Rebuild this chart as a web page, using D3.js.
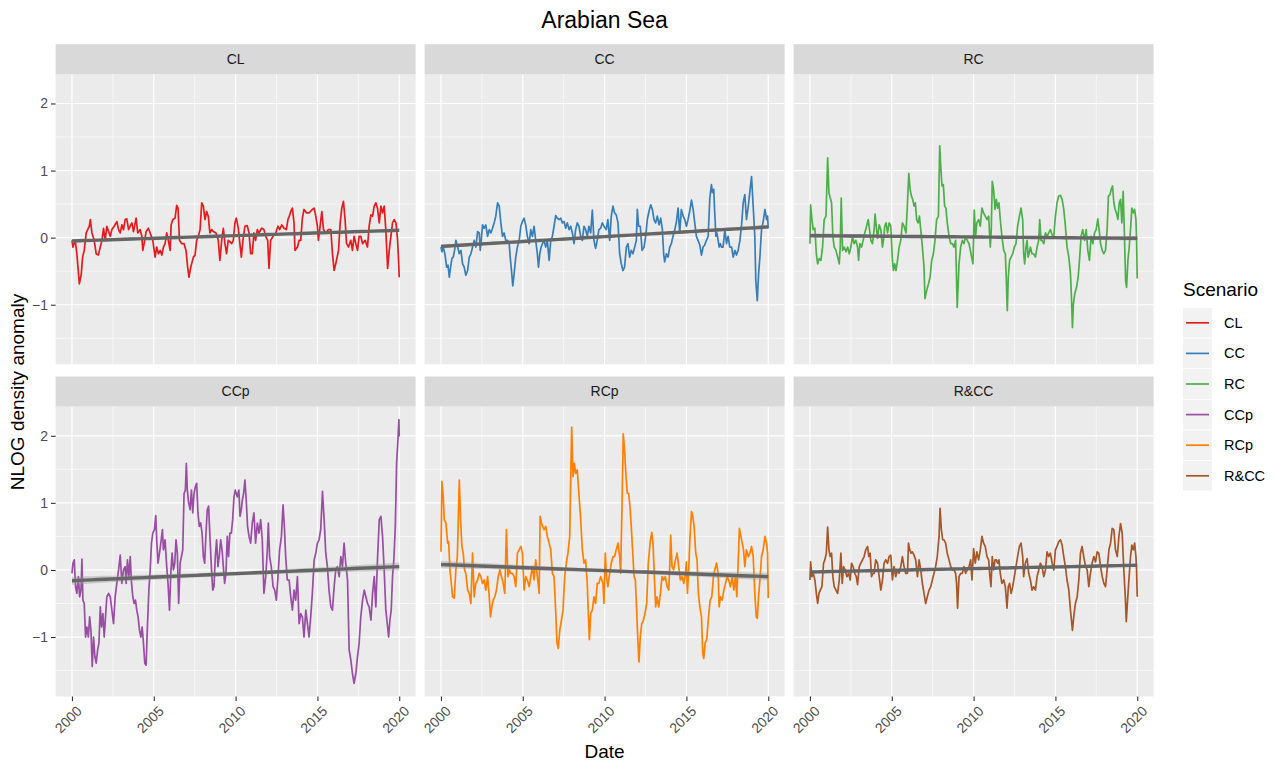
<!DOCTYPE html>
<html><head><meta charset="utf-8">
<script src="https://cdn.jsdelivr.net/npm/d3@7"></script>
<style>body{margin:0;background:#fff} text{font-family:"Liberation Sans",Arial,Helvetica,sans-serif}</style>
</head><body><svg id="chart" width="1277" height="762"></svg>
<script>
const scenarios = ["CL","CC","RC","CCp","RCp","R&CC"];
const colors = ["#E41A1C","#377EB8","#4DAF4A","#984EA3","#FF7F00","#A65628"];
const xTicks = [2000,2005,2010,2015,2020];
const yTicks = [-1,0,1,2];
const xMinor = [2002.5,2007.5,2012.5,2017.5];
const yMinor = [-1.5,-0.5,0.5,1.5];
// linear trend (geom_smooth lm) read at 2000 and 2020, and mid-range CI half width
const trendStart = [-0.05,-0.13,0.03,-0.16,0.08,-0.03];
const trendEnd   = [0.11,0.16,-0.01,0.05,-0.10,0.07];
const trendCI    = [0.012,0.014,0.018,0.03,0.028,0.012];

const clData = [[2000.00,-0.04],[2000.06,-0.14],[2000.20,-0.04],[2000.30,-0.24],[2000.45,-0.69],[2000.57,-0.54],[2000.65,-0.29],[2000.75,-0.19],[2000.87,0.07],[2000.96,0.12],
[2001.06,0.17],[2001.12,0.27],[2001.22,0.07],[2001.36,-0.04],[2001.48,-0.24],[2001.61,-0.26],[2001.73,-0.14],[2001.83,-0.04],[2001.93,0.14],
[2002.03,-0.04],[2002.13,0.17],[2002.24,0.09],[2002.34,0.02],[2002.44,0.12],[2002.58,0.17],[2002.74,0.24],[2002.85,0.12],[2002.95,0.07],
[2003.05,0.19],[2003.15,0.12],[2003.25,0.27],[2003.35,0.28],[2003.46,0.12],[2003.56,0.17],[2003.66,0.22],[2003.76,0.09],[2003.92,0.29],
[2004.02,0.07],[2004.17,0.12],[2004.27,0.02],[2004.33,-0.19],[2004.41,-0.09],[2004.53,0.09],[2004.67,0.14],[2004.78,0.07],[2004.94,-0.04],
[2005.08,-0.29],[2005.18,-0.14],[2005.28,-0.24],[2005.39,-0.19],[2005.49,-0.26],[2005.59,-0.14],[2005.69,-0.09],[2005.79,0.07],[2005.89,-0.04],
[2006.00,-0.19],[2006.06,0.19],[2006.16,0.27],[2006.30,0.29],[2006.40,0.48],[2006.48,0.44],[2006.57,-0.04],[2006.71,-0.09],[2006.85,-0.09],[2006.97,-0.19],
[2007.07,-0.44],[2007.15,-0.59],[2007.26,-0.44],[2007.42,-0.29],[2007.52,-0.26],[2007.62,-0.04],[2007.72,0.02],[2007.83,0.12],[2007.93,0.52],
[2008.03,0.47],[2008.13,0.27],[2008.23,0.39],[2008.33,0.32],[2008.43,0.07],[2008.54,0.12],[2008.64,0.09],[2008.80,0.07],[2008.94,-0.04],
[2009.04,-0.34],[2009.15,-0.04],[2009.25,0.14],[2009.35,-0.09],[2009.45,-0.24],[2009.55,-0.04],[2009.65,-0.06],[2009.76,-0.09],[2009.86,-0.04],[2009.96,0.22],
[2010.04,0.29],[2010.16,0.15],[2010.24,-0.04],[2010.35,-0.29],[2010.45,-0.04],[2010.57,0.17],[2010.71,0.18],[2010.82,0.07],[2010.92,-0.24],
[2011.02,-0.24],[2011.12,0.07],[2011.22,-0.04],[2011.33,0.12],[2011.43,0.07],[2011.59,0.14],[2011.73,0.12],[2011.84,0.02],[2011.96,-0.04],
[2012.04,-0.46],[2012.14,-0.04],[2012.29,0.02],[2012.45,0.07],[2012.59,0.17],[2012.69,0.12],[2012.82,0.19],[2012.96,0.14],
[2013.10,0.12],[2013.20,0.27],[2013.31,0.34],[2013.37,0.39],[2013.47,0.44],[2013.57,0.22],[2013.63,-0.19],[2013.78,-0.14],[2013.88,-0.04],[2013.98,-0.04],
[2014.08,0.29],[2014.18,0.42],[2014.33,0.37],[2014.49,0.37],[2014.69,0.42],[2014.80,0.44],[2014.90,0.32],
[2015.00,0.17],[2015.06,-0.04],[2015.14,0.12],[2015.27,0.39],[2015.37,0.12],[2015.51,0.07],[2015.67,0.12],[2015.82,0.12],[2015.92,-0.24],
[2016.02,-0.49],[2016.12,-0.39],[2016.29,-0.19],[2016.39,0.22],[2016.49,0.44],[2016.59,0.54],[2016.69,0.27],[2016.78,-0.09],[2016.90,-0.14],
[2017.04,-0.04],[2017.14,-0.19],[2017.24,0.02],[2017.35,-0.09],[2017.45,-0.19],[2017.55,0.02],[2017.65,0.02],[2017.76,-0.09],[2017.92,-0.04],
[2018.06,-0.14],[2018.16,0.17],[2018.27,0.34],[2018.37,0.32],[2018.47,0.47],[2018.57,0.52],[2018.67,0.44],[2018.78,0.22],[2018.88,0.47],[2018.98,0.37],
[2019.08,0.47],[2019.18,0.12],[2019.29,-0.46],[2019.39,-0.19],[2019.49,0.02],[2019.59,0.22],[2019.69,0.27],[2019.80,0.22],[2019.90,-0.04],[2019.96,-0.34],[2020.00,-0.59]];

const ccData = [[2000.00,-0.14],[2000.06,-0.21],[2000.14,-0.14],[2000.24,-0.24],[2000.35,-0.44],[2000.43,-0.41],[2000.51,-0.59],[2000.59,-0.44],[2000.67,-0.31],[2000.75,-0.29],[2000.83,-0.19],[2000.91,-0.04],
[2001.02,-0.14],[2001.12,-0.24],[2001.22,-0.19],[2001.32,-0.39],[2001.42,-0.44],[2001.52,-0.56],[2001.63,-0.49],[2001.73,-0.29],[2001.83,-0.24],[2001.93,-0.14],
[2002.03,-0.04],[2002.13,-0.14],[2002.24,0.09],[2002.34,0.07],[2002.40,-0.19],[2002.46,-0.04],[2002.54,0.19],[2002.64,0.14],[2002.74,0.19],[2002.85,0.02],[2002.95,0.12],
[2003.05,0.07],[2003.15,0.14],[2003.25,0.22],[2003.35,0.32],[2003.46,0.52],[2003.56,0.47],[2003.66,0.22],[2003.76,0.02],[2003.86,0.07],[2003.96,-0.04],
[2004.07,-0.04],[2004.17,-0.09],[2004.23,-0.29],[2004.31,-0.49],[2004.39,-0.72],[2004.47,-0.54],[2004.57,-0.29],[2004.67,-0.14],[2004.78,-0.04],[2004.88,0.17],[2004.98,0.24],
[2005.08,0.29],[2005.18,0.19],[2005.28,0.02],[2005.39,-0.09],[2005.49,0.12],[2005.59,0.02],[2005.69,0.17],[2005.79,-0.04],[2005.89,-0.24],[2005.96,-0.44],
[2006.04,-0.24],[2006.12,-0.14],[2006.20,-0.09],[2006.30,-0.04],[2006.40,-0.14],[2006.50,-0.04],[2006.61,-0.34],[2006.71,-0.04],[2006.81,0.02],[2006.91,0.17],
[2007.01,0.33],[2007.11,0.29],[2007.22,0.27],[2007.32,0.29],[2007.42,0.22],[2007.52,0.24],[2007.62,0.14],[2007.72,0.22],[2007.83,0.12],[2007.93,0.17],
[2008.03,0.07],[2008.13,-0.09],[2008.23,0.12],[2008.33,0.22],[2008.43,0.17],[2008.54,0.02],[2008.64,-0.04],[2008.74,0.17],[2008.84,0.12],[2008.94,0.02],
[2009.04,0.17],[2009.15,0.07],[2009.25,0.41],[2009.35,-0.04],[2009.45,-0.16],[2009.55,-0.04],[2009.65,0.12],[2009.76,0.14],[2009.86,0.22],[2009.96,0.17],
[2010.10,0.12],[2010.20,0.27],[2010.31,-0.04],[2010.41,0.32],[2010.51,0.47],[2010.61,0.37],[2010.71,0.34],[2010.82,0.22],[2010.92,-0.24],
[2011.02,-0.39],[2011.12,-0.49],[2011.22,-0.44],[2011.33,-0.14],[2011.43,-0.09],[2011.53,-0.29],[2011.63,-0.19],[2011.73,-0.24],[2011.84,-0.14],[2011.94,-0.04],
[2012.00,0.42],[2012.08,0.17],[2012.18,0.17],[2012.29,-0.19],[2012.41,-0.14],[2012.51,0.02],[2012.61,0.27],[2012.71,0.39],[2012.82,0.49],[2012.92,0.42],
[2013.02,0.27],[2013.12,0.22],[2013.22,0.32],[2013.33,0.19],[2013.43,0.29],[2013.53,0.12],[2013.61,-0.24],[2013.67,-0.36],[2013.78,-0.24],[2013.88,-0.29],[2013.98,-0.14],
[2014.08,-0.09],[2014.18,0.02],[2014.29,0.12],[2014.39,0.24],[2014.49,0.44],[2014.59,0.07],[2014.69,0.42],[2014.80,0.32],[2014.90,0.27],
[2015.00,0.17],[2015.10,0.27],[2015.20,0.39],[2015.31,0.56],[2015.41,0.42],[2015.51,0.22],[2015.61,0.02],[2015.71,-0.04],[2015.82,-0.11],[2015.92,-0.26],
[2016.02,-0.14],[2016.12,-0.11],[2016.22,-0.04],[2016.33,0.02],[2016.43,0.59],[2016.53,0.79],[2016.59,0.67],[2016.67,0.72],[2016.73,0.37],[2016.80,0.02],[2016.86,0.07],[2016.94,-0.04],
[2017.00,-0.14],[2017.08,-0.09],[2017.14,-0.14],[2017.24,-0.14],[2017.35,0.12],[2017.45,-0.09],[2017.55,0.02],[2017.65,-0.14],[2017.76,-0.14],[2017.86,-0.29],[2017.96,-0.19],
[2018.06,-0.26],[2018.16,-0.19],[2018.27,-0.04],[2018.37,0.19],[2018.47,0.52],[2018.57,0.64],[2018.67,0.27],[2018.78,0.47],[2018.88,0.69],[2018.98,0.91],
[2019.08,0.47],[2019.18,0.02],[2019.24,-0.64],[2019.33,-0.94],[2019.41,-0.54],[2019.49,-0.29],[2019.59,0.12],[2019.69,0.24],[2019.80,0.42],[2019.90,0.27],[2019.96,0.32],[2020.00,0.14]];

const rcData = [[2000.00,-0.09],[2000.04,0.49],[2000.12,0.27],[2000.20,0.12],[2000.30,0.14],[2000.39,-0.24],[2000.47,-0.39],[2000.57,-0.31],[2000.67,-0.34],[2000.77,-0.14],[2000.87,0.27],[2000.98,0.32],
[2001.08,1.19],[2001.16,0.67],[2001.24,0.59],[2001.32,0.52],[2001.40,0.02],[2001.48,-0.14],[2001.59,-0.19],[2001.69,-0.29],[2001.79,-0.39],[2001.85,-0.14],[2001.91,0.59],[2001.99,-0.19],
[2002.09,-0.14],[2002.20,-0.21],[2002.30,-0.14],[2002.40,-0.24],[2002.50,-0.14],[2002.60,0.02],[2002.70,-0.09],[2002.80,-0.04],[2002.91,-0.14],[2002.97,-0.34],
[2003.05,-0.09],[2003.15,-0.14],[2003.25,-0.04],[2003.35,0.07],[2003.46,0.17],[2003.56,0.27],[2003.64,0.12],[2003.72,-0.04],[2003.82,-0.09],[2003.92,0.12],[2003.98,0.35],
[2004.07,0.12],[2004.13,-0.01],[2004.23,0.19],[2004.33,0.12],[2004.43,-0.14],[2004.49,-0.04],[2004.57,0.17],[2004.65,0.22],[2004.74,0.07],[2004.84,0.22],[2004.94,0.17],
[2005.04,-0.34],[2005.10,-0.49],[2005.18,-0.39],[2005.26,-0.49],[2005.35,-0.34],[2005.45,-0.14],[2005.55,-0.04],[2005.65,0.22],[2005.75,0.17],[2005.87,0.07],[2005.96,0.52],
[2006.04,0.96],[2006.12,0.72],[2006.20,0.62],[2006.28,0.57],[2006.36,0.47],[2006.44,0.52],[2006.52,0.27],[2006.61,0.22],[2006.69,0.32],[2006.77,0.12],[2006.87,-0.14],[2006.97,-0.44],
[2007.03,-0.91],[2007.13,-0.79],[2007.24,-0.69],[2007.34,-0.59],[2007.44,-0.34],[2007.54,-0.24],[2007.64,-0.04],[2007.74,0.27],[2007.85,0.32],[2007.93,1.37],[2007.99,1.07],
[2008.07,0.77],[2008.15,0.79],[2008.23,0.47],[2008.31,0.44],[2008.39,0.22],[2008.50,0.02],[2008.60,-0.09],[2008.70,-0.09],[2008.80,-0.14],[2008.90,-0.04],
[2009.00,-1.04],[2009.11,-0.39],[2009.21,-0.14],[2009.31,-0.04],[2009.41,-0.09],[2009.51,0.02],[2009.61,-0.04],[2009.72,-0.09],[2009.96,-0.39],
[2010.04,0.41],[2010.12,0.02],[2010.20,0.22],[2010.31,0.27],[2010.41,0.17],[2010.51,0.44],[2010.61,0.37],[2010.71,0.32],[2010.82,0.27],[2010.92,0.32],
[2011.02,-0.14],[2011.08,0.12],[2011.14,0.84],[2011.22,0.72],[2011.31,0.42],[2011.39,0.57],[2011.47,0.44],[2011.55,0.52],[2011.63,0.27],[2011.73,0.02],[2011.84,-0.19],[2011.94,-0.24],
[2012.00,-0.64],[2012.06,-1.09],[2012.12,-0.59],[2012.20,-0.34],[2012.29,-0.29],[2012.39,-0.24],[2012.49,-0.14],[2012.59,-0.09],[2012.69,0.17],[2012.80,0.32],[2012.90,0.44],
[2013.00,0.27],[2013.06,-0.24],[2013.12,-0.39],[2013.20,-0.14],[2013.27,-0.04],[2013.33,-0.29],[2013.39,-0.24],[2013.47,-0.14],[2013.57,-0.24],[2013.67,-0.24],[2013.78,-0.29],[2013.88,-0.14],[2013.98,-0.04],
[2014.04,0.27],[2014.12,-0.04],[2014.18,-0.04],[2014.29,-0.09],[2014.39,0.07],[2014.49,0.02],[2014.59,0.07],[2014.69,0.12],[2014.80,0.04],[2014.90,0.02],
[2015.00,0.32],[2015.10,0.52],[2015.20,0.62],[2015.31,0.63],[2015.41,0.57],[2015.51,0.42],[2015.61,0.17],[2015.71,-0.14],[2015.82,-0.29],[2015.92,-0.54],[2015.98,-0.89],
[2016.04,-1.34],[2016.10,-0.99],[2016.18,-0.84],[2016.29,-0.74],[2016.39,-0.59],[2016.47,-0.34],[2016.57,0.02],[2016.67,0.12],[2016.78,-0.04],[2016.88,0.12],[2016.98,-0.19],
[2017.08,-0.34],[2017.18,0.02],[2017.29,-0.09],[2017.39,0.07],[2017.49,0.12],[2017.59,0.28],[2017.67,0.12],[2017.76,-0.09],[2017.86,-0.19],[2017.96,-0.24],
[2018.06,-0.19],[2018.16,0.12],[2018.24,0.62],[2018.33,0.64],[2018.41,0.72],[2018.49,0.77],[2018.57,0.52],[2018.65,0.42],[2018.73,0.37],[2018.82,0.27],[2018.90,0.52],[2018.98,0.57],
[2019.06,0.22],[2019.14,0.69],[2019.22,0.02],[2019.29,-0.64],[2019.35,-0.74],[2019.43,-0.34],[2019.51,-0.14],[2019.59,0.12],[2019.67,0.44],[2019.76,0.37],[2019.84,0.42],[2019.92,0.27],[2019.96,-0.04],[2020.00,-0.61]];

const ccpData = [[2000.00,-0.05],[2000.06,0.10],[2000.14,0.15],[2000.22,-0.25],[2000.30,-0.35],[2000.39,-0.10],[2000.47,-0.40],[2000.55,-0.30],[2000.61,0.16],[2000.67,-0.45],[2000.75,-0.50],[2000.83,-1.00],[2000.91,-0.85],
[2001.00,-1.00],[2001.08,-0.70],[2001.16,-0.90],[2001.24,-1.44],[2001.32,-1.00],[2001.40,-1.29],[2001.48,-1.39],[2001.57,-1.19],[2001.65,-1.09],[2001.73,-0.55],[2001.81,-0.85],[2001.89,-0.65],[2001.97,-1.00],
[2002.05,-0.70],[2002.13,-0.40],[2002.24,-0.35],[2002.34,-0.40],[2002.44,-0.60],[2002.54,-0.80],[2002.64,-0.40],[2002.74,-0.20],[2002.85,0.00],[2002.95,0.22],
[2003.05,-0.20],[2003.15,0.00],[2003.25,0.05],[2003.31,-0.20],[2003.39,0.15],[2003.48,-0.10],[2003.56,0.20],[2003.64,-0.20],[2003.72,-0.40],[2003.80,-0.50],[2003.88,-0.45],[2003.96,-0.60],
[2004.04,-0.70],[2004.13,-0.90],[2004.21,-1.00],[2004.29,-0.85],[2004.37,-1.09],[2004.45,-1.39],[2004.53,-1.42],[2004.61,-0.85],[2004.70,-0.30],[2004.78,0.00],[2004.86,0.40],[2004.94,0.55],
[2005.04,0.60],[2005.12,0.81],[2005.18,0.45],[2005.26,0.10],[2005.35,0.25],[2005.43,0.40],[2005.53,0.60],[2005.59,0.30],[2005.69,0.45],[2005.79,0.05],[2005.87,-0.20],[2005.96,-0.60],
[2006.04,-0.05],[2006.12,0.25],[2006.20,0.00],[2006.28,0.10],[2006.36,0.45],[2006.44,0.25],[2006.52,-0.50],[2006.61,0.10],[2006.69,0.20],[2006.77,0.30],[2006.85,1.14],[2006.93,1.19],[2006.99,1.59],
[2007.05,1.19],[2007.13,1.00],[2007.22,0.90],[2007.30,1.19],[2007.38,0.85],[2007.46,1.14],[2007.54,1.24],[2007.62,1.29],[2007.70,0.85],[2007.78,0.65],[2007.87,0.70],[2007.95,0.55],
[2008.03,0.20],[2008.11,0.10],[2008.19,0.55],[2008.27,0.90],[2008.35,0.95],[2008.43,0.50],[2008.52,0.05],[2008.60,-0.30],[2008.68,-0.25],[2008.76,0.20],[2008.84,0.45],[2008.92,0.05],
[2009.00,0.20],[2009.09,0.45],[2009.17,0.30],[2009.25,0.05],[2009.33,-0.20],[2009.41,-0.05],[2009.49,0.50],[2009.57,0.20],[2009.65,0.55],[2009.74,0.55],[2009.82,0.75],[2009.90,1.09],[2009.98,1.19],
[2010.10,1.09],[2010.20,1.19],[2010.27,0.80],[2010.35,0.90],[2010.41,1.04],[2010.49,1.14],[2010.57,1.34],[2010.65,1.04],[2010.73,0.65],[2010.82,0.50],[2010.92,0.40],
[2011.02,0.70],[2011.12,0.85],[2011.22,0.40],[2011.33,0.70],[2011.43,0.55],[2011.53,0.75],[2011.63,0.45],[2011.73,-0.35],[2011.84,-0.10],[2011.94,0.30],
[2012.00,0.70],[2012.08,0.20],[2012.18,0.05],[2012.29,-0.25],[2012.39,-0.30],[2012.49,-0.45],[2012.59,-0.10],[2012.69,0.30],[2012.80,0.50],[2012.90,0.97],[2012.98,0.65],
[2013.06,0.20],[2013.16,-0.15],[2013.27,-0.15],[2013.37,-0.40],[2013.47,-0.60],[2013.57,-0.30],[2013.67,-0.45],[2013.78,-0.10],[2013.88,-0.80],[2013.98,-0.65],
[2014.08,-0.70],[2014.18,-1.00],[2014.29,-0.60],[2014.39,-0.80],[2014.49,-1.00],[2014.59,-0.70],[2014.69,-0.35],[2014.80,0.15],[2014.90,0.25],
[2015.00,0.40],[2015.10,0.45],[2015.20,0.60],[2015.31,1.17],[2015.41,0.75],[2015.51,0.25],[2015.61,0.05],[2015.71,-0.30],[2015.82,-0.55],[2015.92,-0.60],
[2016.02,-0.25],[2016.12,0.00],[2016.22,0.05],[2016.33,-0.10],[2016.43,0.20],[2016.53,0.05],[2016.63,0.40],[2016.73,0.10],[2016.84,-0.15],[2016.94,-1.19],
[2017.04,-1.34],[2017.14,-1.54],[2017.24,-1.69],[2017.35,-1.54],[2017.45,-1.29],[2017.55,-1.09],[2017.65,-0.70],[2017.76,-0.45],[2017.86,-0.30],[2017.96,-0.40],
[2018.06,-0.50],[2018.16,-0.55],[2018.27,-0.75],[2018.37,-0.35],[2018.47,-0.10],[2018.57,-0.55],[2018.67,0.15],[2018.78,0.75],[2018.88,0.80],[2018.98,0.50],
[2019.08,0.00],[2019.18,-0.60],[2019.29,-0.85],[2019.35,-1.00],[2019.43,-0.75],[2019.51,-0.60],[2019.59,-0.10],[2019.67,0.15],[2019.76,0.65],[2019.84,1.59],[2019.92,1.94],[2019.98,2.24],[2020.00,1.99]];

const rcpData = [[2000.00,0.27],[2000.06,1.32],[2000.14,1.09],[2000.20,0.75],[2000.30,0.70],[2000.41,0.40],[2000.47,0.42],[2000.55,0.00],[2000.61,-0.15],[2000.71,-0.40],[2000.81,-0.42],[2000.91,0.00],
[2001.00,0.20],[2001.06,0.75],[2001.12,1.34],[2001.20,0.75],[2001.28,0.35],[2001.36,0.25],[2001.44,0.00],[2001.52,-0.05],[2001.63,-0.30],[2001.73,-0.35],[2001.83,-0.50],[2001.93,0.25],
[2002.03,-0.40],[2002.13,-0.20],[2002.24,-0.15],[2002.34,-0.05],[2002.44,-0.10],[2002.54,-0.20],[2002.64,-0.15],[2002.74,-0.30],[2002.85,-0.10],[2002.95,-0.40],
[2003.03,-0.70],[2003.11,-0.55],[2003.19,-0.45],[2003.29,-0.40],[2003.39,-0.30],[2003.50,-0.10],[2003.60,0.00],[2003.70,-0.10],[2003.80,-0.20],[2003.90,-0.35],
[2004.00,0.60],[2004.09,-0.10],[2004.17,0.00],[2004.27,-0.05],[2004.37,-0.05],[2004.47,-0.10],[2004.57,-0.25],[2004.67,0.25],[2004.78,0.30],[2004.88,0.35],[2004.98,0.25],
[2005.08,-0.30],[2005.18,-0.10],[2005.28,-0.15],[2005.39,-0.25],[2005.49,-0.10],[2005.59,0.05],[2005.69,-0.15],[2005.79,0.15],[2005.89,-0.10],
[2006.00,-0.35],[2006.06,0.80],[2006.14,0.70],[2006.22,0.65],[2006.30,0.60],[2006.40,0.65],[2006.50,0.50],[2006.61,0.40],[2006.71,0.30],[2006.81,-0.05],[2006.91,-0.10],
[2007.01,-0.60],[2007.09,-1.09],[2007.17,-1.17],[2007.26,-0.90],[2007.36,-0.75],[2007.46,-0.60],[2007.56,-0.10],[2007.66,0.10],[2007.76,0.25],[2007.87,0.50],[2007.93,1.39],[2007.99,2.13],
[2008.07,1.39],[2008.15,1.59],[2008.23,1.44],[2008.33,1.49],[2008.43,1.14],[2008.54,0.75],[2008.64,0.30],[2008.74,0.10],[2008.84,0.15],[2008.94,-0.20],
[2009.00,-0.60],[2009.07,-1.04],[2009.15,-0.65],[2009.25,-0.60],[2009.35,-0.40],[2009.45,-0.50],[2009.55,-0.20],[2009.65,-0.20],[2009.76,-0.10],[2009.83,-0.15],[2009.90,-0.20],[2009.96,-0.50],
[2010.04,0.25],[2010.12,-0.10],[2010.20,-0.25],[2010.31,-0.05],[2010.41,0.10],[2010.51,0.20],[2010.61,0.20],[2010.71,0.30],[2010.82,0.40],[2010.92,0.20],[2010.98,-0.05],
[2011.06,0.90],[2011.14,2.03],[2011.22,1.79],[2011.31,1.39],[2011.39,1.14],[2011.47,1.14],[2011.55,0.95],[2011.63,0.65],[2011.71,0.30],[2011.80,-0.10],[2011.88,-0.15],[2011.96,-0.60],
[2012.04,-1.09],[2012.10,-1.37],[2012.18,-1.00],[2012.27,-0.80],[2012.37,-0.75],[2012.47,-0.65],[2012.57,-0.50],[2012.67,0.10],[2012.78,0.40],[2012.88,0.56],[2012.96,0.40],
[2013.04,-0.10],[2013.12,-0.55],[2013.20,-0.40],[2013.31,-0.55],[2013.41,-0.35],[2013.51,-0.10],[2013.61,-0.15],[2013.71,-0.10],[2013.82,-0.25],[2013.92,-0.30],[2013.98,0.05],
[2014.04,0.52],[2014.12,0.05],[2014.22,0.00],[2014.33,0.15],[2014.43,0.25],[2014.53,0.05],[2014.63,-0.15],[2014.73,-0.10],[2014.84,-0.20],[2014.94,-0.05],
[2015.00,0.12],[2015.06,-0.35],[2015.14,0.00],[2015.22,0.50],[2015.31,0.87],[2015.39,0.80],[2015.47,0.65],[2015.57,0.25],[2015.65,0.15],[2015.73,-0.35],[2015.82,-0.55],[2015.92,-0.70],
[2016.00,-1.24],[2016.06,-1.32],[2016.14,-1.09],[2016.24,-1.04],[2016.35,-0.70],[2016.45,-0.45],[2016.55,-0.40],[2016.65,-0.10],[2016.73,0.00],[2016.84,0.10],[2016.94,-0.05],
[2017.00,-0.55],[2017.08,-0.40],[2017.18,-0.45],[2017.29,-0.30],[2017.39,-0.20],[2017.49,-0.10],[2017.59,-0.15],[2017.69,-0.25],[2017.80,-0.10],[2017.90,-0.30],
[2018.00,-0.10],[2018.08,-0.40],[2018.16,0.10],[2018.24,0.62],[2018.33,0.50],[2018.41,0.40],[2018.49,0.30],[2018.57,0.05],[2018.67,0.30],[2018.78,0.20],[2018.88,0.25],[2018.98,0.35],
[2019.08,0.20],[2019.18,-0.35],[2019.27,-0.70],[2019.33,-0.72],[2019.41,-0.40],[2019.49,-0.15],[2019.59,0.20],[2019.69,0.30],[2019.80,0.50],[2019.90,0.40],[2019.96,0.25],[2020.00,-0.42]];

const rccData = [[2000.00,-0.15],[2000.04,0.12],[2000.12,-0.10],[2000.20,-0.05],[2000.30,-0.15],[2000.39,-0.35],[2000.47,-0.50],[2000.55,-0.35],[2000.63,-0.30],[2000.73,-0.25],[2000.83,0.10],[2000.91,0.15],
[2001.00,0.25],[2001.08,0.64],[2001.16,0.30],[2001.24,0.20],[2001.32,0.25],[2001.40,-0.10],[2001.48,-0.25],[2001.59,-0.30],[2001.69,-0.35],[2001.79,-0.15],[2001.89,0.25],[2001.97,-0.20],
[2002.05,0.05],[2002.15,0.00],[2002.26,-0.10],[2002.36,-0.05],[2002.46,-0.15],[2002.54,0.10],[2002.64,0.05],[2002.74,-0.05],[2002.83,-0.10],[2002.91,-0.22],
[2003.01,0.05],[2003.11,0.10],[2003.21,0.15],[2003.31,0.20],[2003.41,0.30],[2003.52,0.35],[2003.60,0.20],[2003.68,0.25],[2003.76,-0.10],[2003.84,-0.05],[2003.92,-0.05],
[2004.02,0.15],[2004.13,0.10],[2004.23,-0.10],[2004.33,-0.30],[2004.43,-0.15],[2004.53,0.10],[2004.63,0.15],[2004.74,0.10],[2004.84,0.20],[2004.94,0.22],
[2005.04,-0.15],[2005.14,0.05],[2005.24,-0.10],[2005.35,0.00],[2005.45,-0.05],[2005.55,0.05],[2005.65,0.20],[2005.75,0.05],[2005.85,-0.05],[2005.96,-0.05],
[2006.02,0.40],[2006.10,0.30],[2006.18,0.25],[2006.26,0.27],[2006.36,0.22],[2006.46,0.15],[2006.57,-0.10],[2006.67,0.15],[2006.77,0.00],[2006.87,-0.20],[2006.97,-0.35],
[2007.07,-0.50],[2007.17,-0.40],[2007.28,-0.30],[2007.38,-0.25],[2007.48,-0.15],[2007.58,-0.05],[2007.68,0.05],[2007.78,0.20],[2007.89,0.50],[2007.95,0.92],
[2008.03,0.60],[2008.11,0.45],[2008.19,0.45],[2008.29,0.40],[2008.39,0.25],[2008.50,0.15],[2008.60,0.05],[2008.70,0.00],[2008.80,0.00],[2008.90,-0.05],[2008.96,-0.20],
[2009.02,-0.57],[2009.11,-0.10],[2009.21,-0.05],[2009.31,-0.05],[2009.41,0.05],[2009.51,-0.05],[2009.61,0.00],[2009.72,0.05],[2009.82,0.15],[2009.90,-0.15],
[2010.00,0.32],[2010.10,0.10],[2010.20,0.27],[2010.31,0.15],[2010.41,0.30],[2010.51,0.50],[2010.61,0.40],[2010.71,0.35],[2010.82,0.20],[2010.92,0.15],[2010.98,-0.05],
[2011.06,-0.25],[2011.14,0.20],[2011.22,0.00],[2011.31,0.15],[2011.39,0.15],[2011.47,0.10],[2011.55,0.15],[2011.63,-0.05],[2011.73,-0.20],[2011.84,-0.15],[2011.94,-0.25],
[2012.04,-0.57],[2012.12,-0.25],[2012.20,-0.20],[2012.29,-0.35],[2012.39,-0.25],[2012.49,-0.10],[2012.59,0.05],[2012.69,0.20],[2012.80,0.35],[2012.90,0.40],
[2013.00,0.20],[2013.06,-0.10],[2013.16,0.10],[2013.27,0.17],[2013.37,-0.05],[2013.47,-0.15],[2013.57,-0.30],[2013.67,-0.25],[2013.78,-0.30],[2013.88,-0.10],[2013.98,0.00],
[2014.08,0.10],[2014.18,0.05],[2014.29,-0.10],[2014.39,0.00],[2014.49,0.27],[2014.59,0.20],[2014.69,0.25],[2014.80,0.10],[2014.90,0.00],
[2015.00,0.30],[2015.10,0.35],[2015.20,0.42],[2015.31,0.45],[2015.41,0.37],[2015.51,0.20],[2015.61,0.05],[2015.71,-0.15],[2015.82,-0.30],[2015.92,-0.60],[2015.98,-0.75],
[2016.04,-0.90],[2016.12,-0.70],[2016.22,-0.50],[2016.33,-0.40],[2016.43,-0.15],[2016.53,0.25],[2016.63,0.35],[2016.73,0.20],[2016.84,0.05],[2016.94,0.00],
[2017.04,-0.25],[2017.14,-0.05],[2017.24,0.10],[2017.35,0.20],[2017.45,0.12],[2017.55,0.27],[2017.65,0.25],[2017.76,0.05],[2017.86,-0.10],[2017.96,-0.20],
[2018.06,-0.25],[2018.16,0.00],[2018.27,0.30],[2018.37,0.40],[2018.47,0.62],[2018.57,0.60],[2018.67,0.30],[2018.78,0.20],[2018.88,0.50],[2018.98,0.69],
[2019.08,0.55],[2019.18,0.00],[2019.27,-0.40],[2019.33,-0.77],[2019.41,-0.45],[2019.49,-0.15],[2019.59,0.20],[2019.67,0.37],[2019.76,0.30],[2019.84,0.40],[2019.92,0.20],[2019.96,0.00],[2020.00,-0.40]];

const seriesData = [clData, ccData, rcData, ccpData, rcpData, rccData];

// ---------- layout ----------
const svg = d3.select("#chart");
const panelW = 360, panelH = 290, gapX = 9;
const left = 55.6, top0 = 74.2, rowStep = 332.3, stripH = 30;

const allX = seriesData.flatMap(s => s.map(d => d[0]));
const allY = seriesData.flatMap(s => s.map(d => d[1]));
const [xmin, xmax] = d3.extent(allX), [ymin, ymax] = d3.extent(allY);
const xs = (xmax - xmin) * 0.05, ys = (ymax - ymin) * 0.05;
const x = d3.scaleLinear().domain([xmin - xs, xmax + xs]).range([0, panelW]);
const y = d3.scaleLinear().domain([ymin - ys, ymax + ys]).range([panelH, 0]);

const font = '"Liberation Sans",Arial,Helvetica,sans-serif';

svg.append("rect").attr("width", 1277).attr("height", 762).attr("fill", "#fff");

svg.append("text").attr("x", left + (3 * panelW + 2 * gapX) / 2).attr("y", 28)
  .attr("text-anchor", "middle").attr("font-size", 23).attr("fill", "#000").text("Arabian Sea");

const line = d3.line().x(d => x(d[0])).y(d => y(d[1]));

scenarios.forEach((name, i) => {
  const col = i % 3, row = Math.floor(i / 3);
  const g = svg.append("g").attr("transform", `translate(${left + col * (panelW + gapX)},${top0 + row * rowStep})`);
  g.append("rect").attr("width", panelW).attr("height", panelH).attr("fill", "#EBEBEB");
  g.selectAll(".ym").data(yMinor).join("line").attr("x1", 0).attr("x2", panelW)
    .attr("y1", d => y(d)).attr("y2", d => y(d)).attr("stroke", "#fff").attr("stroke-width", 0.6);
  g.selectAll(".xm").data(xMinor).join("line").attr("y1", 0).attr("y2", panelH)
    .attr("x1", d => x(d)).attr("x2", d => x(d)).attr("stroke", "#fff").attr("stroke-width", 0.6);
  g.selectAll(".yM").data(yTicks).join("line").attr("x1", 0).attr("x2", panelW)
    .attr("y1", d => y(d)).attr("y2", d => y(d)).attr("stroke", "#fff").attr("stroke-width", 1.2);
  g.selectAll(".xM").data(xTicks).join("line").attr("y1", 0).attr("y2", panelH)
    .attr("x1", d => x(d)).attr("x2", d => x(d)).attr("stroke", "#fff").attr("stroke-width", 1.2);

  g.append("path").datum(seriesData[i]).attr("d", line).attr("fill", "none")
    .attr("stroke", colors[i]).attr("stroke-width", 1.7).attr("stroke-linejoin", "round");

  const x0 = xmin, x1 = xmax;
  const tvals = d3.range(0, 1.0001, 0.02);
  const trend = t => trendStart[i] + (trendEnd[i] - trendStart[i]) * t;
  const hw = t => trendCI[i] * Math.sqrt(1 + 12 * (t - 0.5) * (t - 0.5));
  const area = d3.area().x(t => x(x0 + (x1 - x0) * t)).y0(t => y(trend(t) - hw(t))).y1(t => y(trend(t) + hw(t)));
  g.append("path").datum(tvals).attr("d", area).attr("fill", "#999999").attr("fill-opacity", 0.4);
  g.append("path").datum(tvals).attr("d", d3.line().x(t => x(x0 + (x1 - x0) * t)).y(t => y(trend(t))))
    .attr("fill", "none").attr("stroke", "#666666").attr("stroke-width", 3.4);

  g.append("rect").attr("y", -stripH).attr("width", panelW).attr("height", stripH).attr("fill", "#D9D9D9");
  g.append("text").attr("x", panelW / 2).attr("y", -stripH / 2).attr("dy", "0.35em")
    .attr("text-anchor", "middle").attr("font-size", 14).attr("fill", "#1A1A1A").text(name);

  if (col === 0) {
    const ax = g.append("g").call(d3.axisLeft(y).tickValues(yTicks).tickSize(4.6).tickPadding(3).tickFormat(d3.format("d")));
    ax.select(".domain").remove();
    ax.selectAll("line").attr("stroke", "#333333").attr("stroke-width", 1.1);
    ax.selectAll("text").attr("fill", "#4D4D4D").attr("font-size", 14).attr("font-family", font);
  }
  if (row === 1) {
    const ax = g.append("g").attr("transform", `translate(0,${panelH})`)
      .call(d3.axisBottom(x).tickValues(xTicks).tickSize(4.6).tickFormat(d3.format("d")));
    ax.select(".domain").remove();
    ax.selectAll("line").attr("stroke", "#333333").attr("stroke-width", 1.1);
    ax.selectAll("text").attr("fill", "#4D4D4D").attr("font-size", 14).attr("font-family", font)
      .attr("y", 0).attr("dy", "0.75em").attr("text-anchor", "end")
      .attr("transform", "translate(3,8) rotate(-45)");
  }
});

svg.append("text").attr("x", left + (3 * panelW + 2 * gapX) / 2).attr("y", 758)
  .attr("text-anchor", "middle").attr("font-size", 19).attr("fill", "#000").text("Date");
svg.append("text").attr("transform", `translate(24,392) rotate(-90)`)
  .attr("text-anchor", "middle").attr("font-size", 19).attr("fill", "#000").text("NLOG density anomaly");

const lg = svg.append("g").attr("transform", "translate(1183,0)");
lg.append("text").attr("x", 0).attr("y", 296).attr("font-size", 19).attr("fill", "#000").text("Scenario");
const keyH = 30.6, key0 = 308;
scenarios.forEach((name, i) => {
  const ky = key0 + i * keyH;
  lg.append("rect").attr("x", 0).attr("y", ky).attr("width", 29).attr("height", keyH - 1).attr("fill", "#F2F2F2");
  lg.append("line").attr("x1", 3).attr("x2", 26).attr("y1", ky + (keyH - 1) / 2).attr("y2", ky + (keyH - 1) / 2)
    .attr("stroke", colors[i]).attr("stroke-width", 1.7);
  lg.append("text").attr("x", 41).attr("y", ky + (keyH - 1) / 2).attr("dy", "0.35em")
    .attr("font-size", 14.5).attr("fill", "#000").text(name);
});
</script></body></html>
